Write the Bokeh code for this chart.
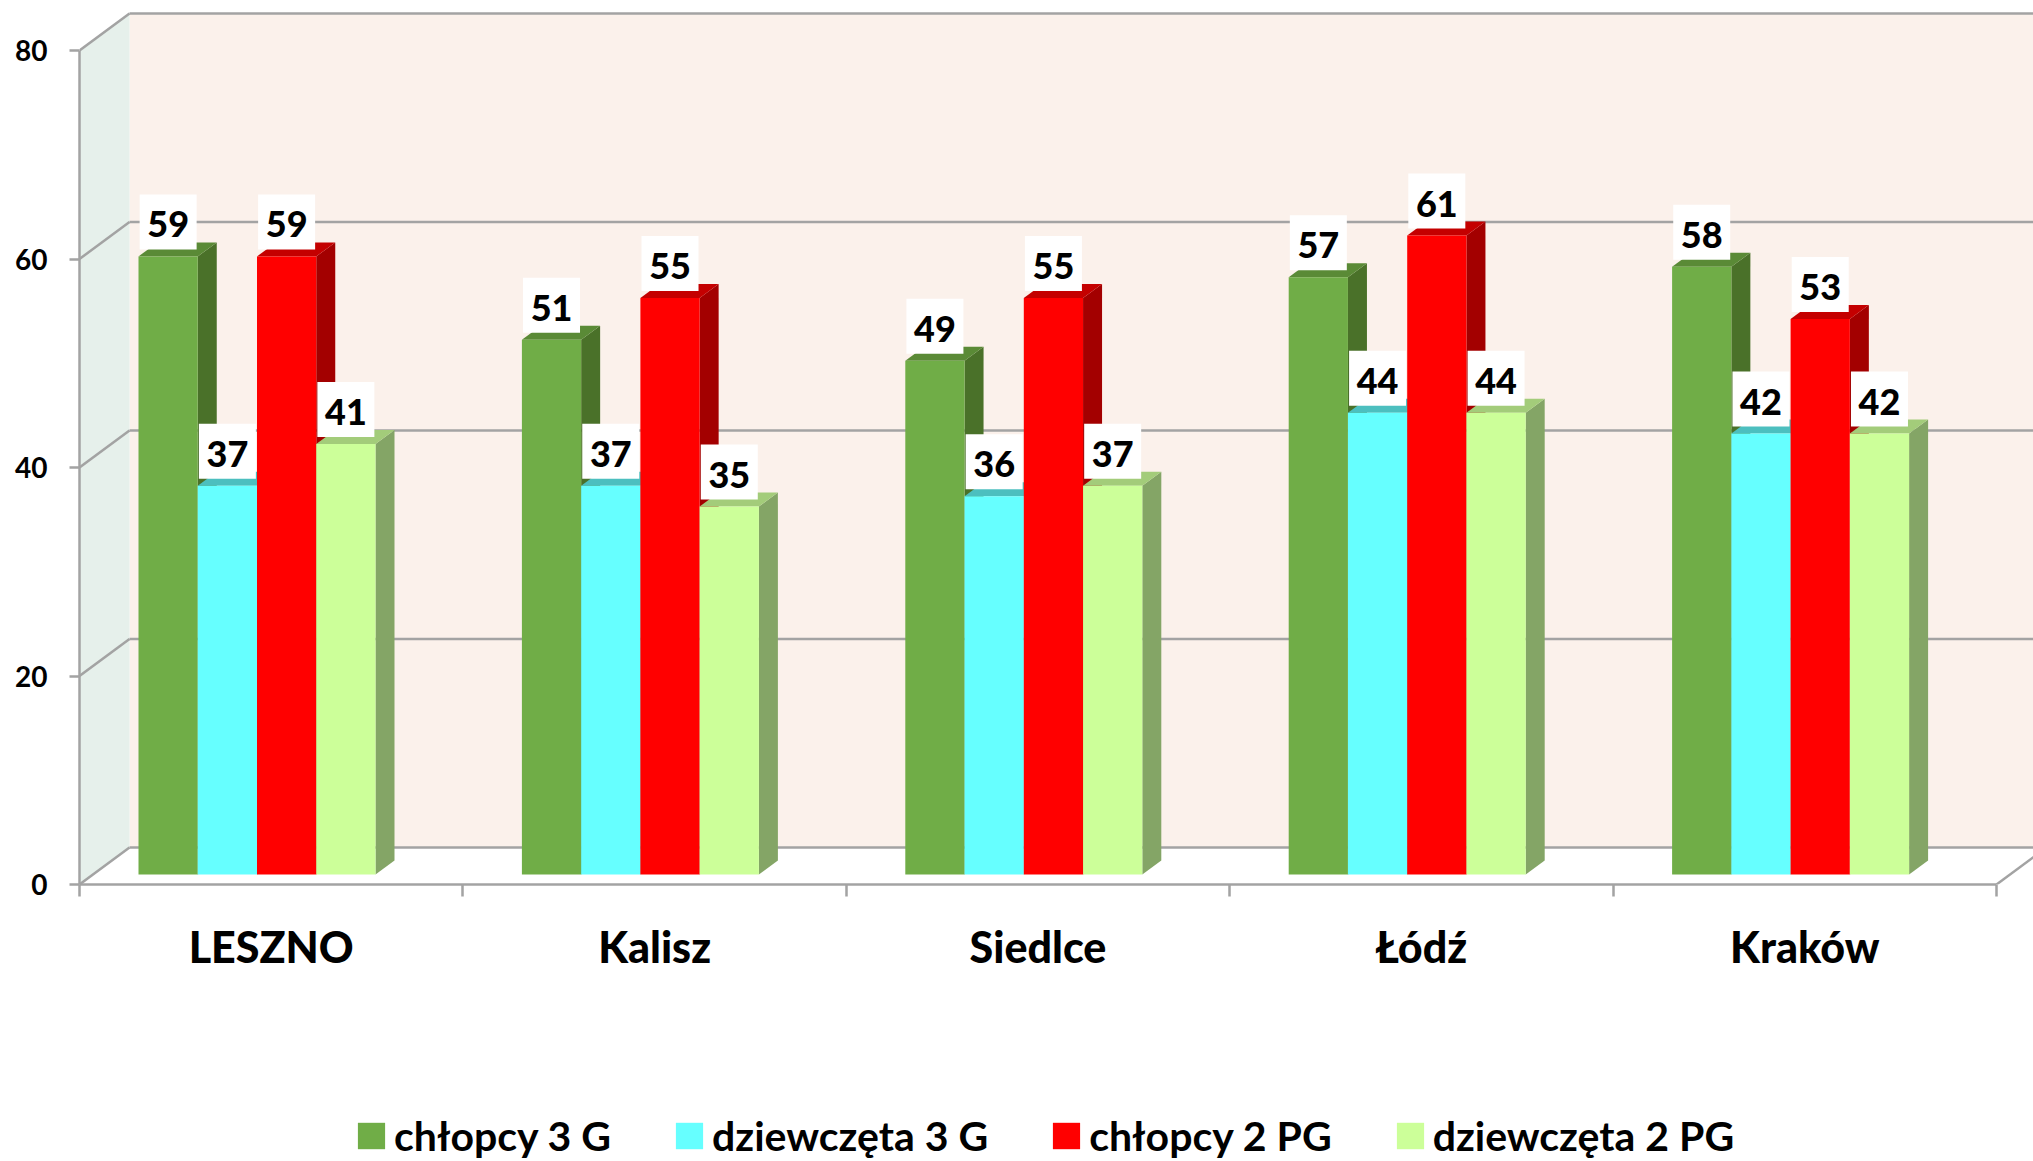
from bokeh.plotting import figure
from bokeh.embed import file_html
from bokeh.resources import INLINE
from bokeh.core.properties import value
from bokeh.layouts import column
from bokeh.models import FixedTicker, Legend, LegendItem, Range1d

cities = ["LESZNO", "Kalisz", "Siedlce", "Łódź", "Kraków"]
chlopcy_3g = [59, 51, 49, 57, 58]
dziewczeta_3g = [37, 37, 36, 44, 42]
chlopcy_2pg = [59, 55, 55, 61, 53]
dziewczeta_2pg = [41, 35, 37, 44, 42]
y_ticks = [0, 20, 40, 60, 80]

series = [
    ("chłopcy 3 G", chlopcy_3g, "#70AD47", "#4A7129", "#5A8A36"),
    ("dziewczęta 3 G", dziewczeta_3g, "#66FFFF", "#4CBFBF", "#4CBFBF"),
    ("chłopcy 2 PG", chlopcy_2pg, "#FF0000", "#A30000", "#C40000"),
    ("dziewczęta 2 PG", dziewczeta_2pg, "#CCFF99", "#84A566", "#A3CC7A"),
]

PX_X = 383.4      # pixels per category
PX_Y = 10.425     # pixels per value unit
X_END = (2033 - 79) / PX_X
Y_END = 884 / PX_Y
WALL_DX = 50 / PX_X
WALL_DY = 37 / PX_Y
BAR_DX = 19 / PX_X
BAR_DY = 14 / PX_Y
BAR_START = 59 / PX_X
BAR_W = 59.25 / PX_X
BAR_FLOOR = 10 / PX_Y
BAR_SHIFT = 1.25
GRID = "#A3A3A3"

p = figure(width=2033, height=1100, output_backend="svg", toolbar_location=None,
           x_range=Range1d(0, X_END), y_range=Range1d(0, Y_END),
           min_border_left=79, min_border_right=0, min_border_top=0, min_border_bottom=216,
           outline_line_color=None, background_fill_color="white", border_fill_color="white")
p.grid.visible = False

# walls
p.quad(left=[WALL_DX], right=[X_END], bottom=[WALL_DY], top=[80 + WALL_DY],
       fill_color="#FBF1EB", line_color=None)
p.patch([0, WALL_DX, WALL_DX, 0], [0, WALL_DY, 80 + WALL_DY, 80],
        fill_color="#E6F0EB", line_color=None)

# gridlines on back wall and side wall, floor edge
p.segment([WALL_DX] * len(y_ticks), [t + WALL_DY for t in y_ticks],
          [X_END] * len(y_ticks), [t + WALL_DY for t in y_ticks], line_color=GRID, line_width=2.5)
p.segment([0] * len(y_ticks), y_ticks, [WALL_DX] * len(y_ticks),
          [t + WALL_DY for t in y_ticks], line_color=GRID, line_width=2.5)
n = len(cities)
p.segment([n], [0], [n + WALL_DX], [WALL_DY], line_color=GRID, line_width=2.5)

# bars
labels_x, labels_y, boxes_y, labels_t = [], [], [], []
for s, (name, vals, front, side, top) in enumerate(series):
    for i, v in enumerate(vals):
        x0 = i + BAR_START + s * BAR_W
        x1 = x0 + BAR_W
        yt = v + BAR_SHIFT
        p.patch([x1, x1 + BAR_DX, x1 + BAR_DX, x1],
                [BAR_FLOOR, BAR_FLOOR + BAR_DY, yt + BAR_DY, yt],
                fill_color=side, line_color=None)
        p.patch([x0, x0 + BAR_DX, x1 + BAR_DX, x1],
                [yt, yt + BAR_DY, yt + BAR_DY, yt],
                fill_color=top, line_color=None)
        p.quad(left=[x0], right=[x1], bottom=[BAR_FLOOR], top=[yt],
               fill_color=front, line_color=None)
        labels_x.append((x0 + x1) / 2)
        labels_y.append(yt + 32 / PX_Y)
        boxes_y.append(yt + 34.5 / PX_Y)
        labels_t.append(str(v))

# value labels
p.rect(labels_x, boxes_y, width=57 / PX_X, height=55 / PX_Y, fill_color="white", line_color=None)
p.text(labels_x, labels_y, text=labels_t, text_align="center", text_baseline="middle",
       text_font=value("Lato Black"), text_font_style="normal", text_font_size="36px", text_color="black")

# axes
ya = p.yaxis[0]
ya.ticker = FixedTicker(ticks=y_ticks)
ya.bounds = (0, 80)
ya.major_tick_out = 10
ya.major_tick_in = 0
ya.minor_tick_out = 0
ya.minor_tick_in = 0
ya.major_tick_line_color = GRID
ya.major_tick_line_width = 2.5
ya.axis_line_color = GRID
ya.axis_line_width = 2.5
ya.major_label_standoff = 22
ya.major_label_text_font = "Lato"
ya.major_label_text_font_style = "bold"
ya.major_label_text_font_size = "28px"
ya.major_label_text_color = "black"

xa = p.xaxis[0]
centers = [i + 0.5 for i in range(n)]
xa.ticker = FixedTicker(ticks=centers, minor_ticks=list(range(n + 1)))
xa.bounds = (0, n)
xa.major_label_overrides = {c: t for c, t in zip(centers, cities)}
xa.major_tick_out = 0
xa.major_tick_in = 0
xa.minor_tick_out = 12
xa.minor_tick_in = 0
xa.minor_tick_line_color = GRID
xa.minor_tick_line_width = 2.5
xa.axis_line_color = GRID
xa.axis_line_width = 2.5
xa.major_label_standoff = 24
xa.major_label_text_font = "Lato Black"
xa.major_label_text_font_style = "normal"
xa.major_label_text_font_size = "43px"
xa.major_label_text_color = "black"

# legend strip
p2 = figure(width=2033, height=61, output_backend="svg", toolbar_location=None,
            x_range=Range1d(0, 1), y_range=Range1d(0, 1), x_axis_type=None, y_axis_type=None,
            min_border_left=0, min_border_right=0, min_border_top=0, min_border_bottom=0,
            outline_line_color=None, background_fill_color="white", border_fill_color="white")
p2.grid.visible = False
items = []
for name, vals, front, side, top in series:
    r = p2.quad(left=[0], right=[0], bottom=[0], top=[0], fill_color=front, line_color=None)
    items.append(LegendItem(label=name, renderers=[r]))
legend = Legend(items=items, orientation="horizontal", location=(275, 1),
                glyph_width=34, glyph_height=33, label_standoff=6, spacing=61,
                padding=0, margin=0, border_line_color=None, background_fill_alpha=0,
                label_text_font="Lato", label_text_font_style="bold",
                label_text_font_size="41px", label_text_color="black", label_height=33)
p2.add_layout(legend, "center")

page = column(p, p2, spacing=0)
open("out.html", "w").write(file_html(page, INLINE))
